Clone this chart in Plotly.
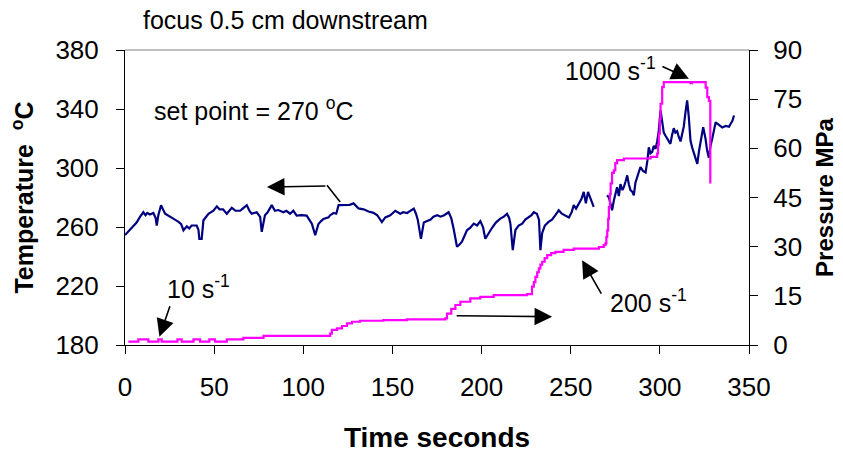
import plotly.graph_objects as go

# ---- Temperature (°C) vs time (s) ----
temp_time = [0, 2, 4.7, 6.5, 8.4, 10.3, 11.5, 12.5, 14, 15.9, 17.2, 17.8, 18.7, 20.2, 22.5, 24, 26, 28, 30, 31.5,
             32.8, 34.7, 36, 37.4, 40.2, 41.2, 41.7, 43, 44, 46.8, 49.6, 51.5, 53, 55, 57.1, 59.9, 62, 64.6, 66, 68.3,
             70, 71.1, 73.9, 75.8, 76.7, 78.5, 80, 82.3, 84.1, 86, 88.8, 90.5, 92.6, 94.4, 96.3, 99, 101.9, 103.5,
             104.8, 106.7, 108.5, 110, 111.3, 114.2, 115.1, 117, 118.5, 119.8, 122, 124.5, 126, 128.2, 131, 133.8,
             136.6, 139.4, 141.5, 144.1, 146, 148.8, 151.6, 154.4, 156, 158.2, 160, 162, 163.2, 164.2, 166, 167.6,
             169.5, 171.4, 173, 175.1, 177, 179, 181.5, 183, 184.3, 186.2, 187.5, 189, 191.8, 193.7, 195.6, 197.5,
             199.3, 200.8, 202.1, 204, 205.9, 208, 210.5, 212.5, 214.3, 215.5, 216.2, 217.5, 219, 220.8, 222.8, 224.5,
             226.5, 228, 229.3, 231, 232.2, 233, 234, 235.5, 237.6, 239.5, 241.4, 243.3, 245, 246.9, 249, 250.5,
             251.7, 253, 254.5, 256, 257.3, 258.5, 259.7, 261, 262.9,
             266.5,
             270.4, 271.4, 272.3, 273.2, 274.2, 275.1, 276, 277, 277.9, 279, 279.8, 280.8, 281.7, 282.6, 283.5, 284.5,
             285.4, 286.3, 287.3, 288.2, 289.1, 290.5, 292, 293, 293.8, 294.7, 295.7, 296.6, 297.6, 298.5, 299.4,
             300.4, 301.3, 302.2, 303.1, 304.1, 305, 305.9, 306.8, 307.8, 308.7, 309.7, 310.6, 311.6, 312.5, 313.4,
             314.4, 315.3, 316.2, 317.2, 318.1, 319.1, 320, 321, 321.9, 322.8, 323.6, 324.3, 325.6, 326.5, 327.5,
             328.4, 329.4, 330.3, 331.3, 332.2, 333.1, 334, 335, 336.9, 338.8, 339.7, 340.7, 341.6]
temp_vals = [254.5, 257, 261, 263, 266.8, 270, 268, 269.5, 268.5, 269.5, 266, 261, 268, 274.8, 269, 268, 266.8, 265,
             263.5, 262, 257.8, 260.5, 259, 261, 261, 258, 252, 252, 264.6, 269, 271, 274, 272, 272, 269, 273, 271,
             271, 272.5, 274.8, 270.5, 269, 270, 266.8, 256.7, 268, 270, 274.8, 271, 271.5, 270, 271, 269, 271,
             267.7, 268, 267.7, 265, 262.3, 254.5, 262, 264, 265.5, 266.5, 268, 269.5, 269, 274.8, 274.8, 274.5,
             275, 276, 272.6, 272, 270.5, 269.6, 268, 263.3, 266.5, 268, 271, 269, 270, 269.5, 271, 272.5, 269, 265,
             252, 263, 264, 265, 267, 268, 267, 268, 270, 266, 259, 246.6, 248, 250, 257.8, 259.5, 262.3, 261, 264,
             260, 252, 256, 259.5, 263, 265.7, 267, 269, 266, 262, 244.3, 258, 261, 262.3, 265, 266.5, 268, 270, 269,
             265, 244.3, 256, 261, 263.5, 265, 268, 271.3, 269, 268, 266.5, 270, 274.8, 272.5, 275.5, 279, 283.8,
             276, 283.8, 279, 273.6,
             None,
             281.5, 280, 275.9, 271.4, 278, 282.6, 287, 281, 289, 285, 287, 291, 295, 289, 285, 284, 281.5, 290, 294,
             297, 300.7, 298, 297, 305, 314, 310, 311, 315, 313, 318, 325.5, 339, 330, 324, 322, 320, 318, 316.4,
             322, 327, 324, 325, 321, 318, 323, 328, 338, 345.8, 335, 318.5, 314, 310, 307, 302.8, 311, 318, 324,
             327.7, 320, 312, 307, 315, 320, 326, 331, 330, 329, 328, 327.5, 328.5, 328, 330, 332, 335.6]

# ---- Pressure (MPa) vs time (s), stepped ----
pres_time = [1.9, 7.5, 13.1, 18.7, 20.6, 29.4, 31.8, 38.4, 42.1, 47.3, 50.5, 57.1, 66.4, 77.7, 115.1, 116, 118.9,
             121.7, 124.5, 127.3, 131.8, 145, 158.1, 179.7, 180.6, 183, 185.3, 188.1, 193.7, 199.3, 206.8, 225.5,
             228.3, 229.3, 230.2, 231.2, 232.1, 233, 234, 235.4, 236.8, 239, 241.4, 246, 251.7, 265.8, 268.5, 269.5,
             270, 270.5, 271, 271.4, 272, 272.4, 273.2, 274.2, 275, 276, 279.8, 294.8, 298.5, 299, 299.4, 300, 300.4,
             301.3, 302.2, 317.2, 318, 324.7, 325.7, 326.6, 327.5, 328.3]
pres_vals = [1.0, 1.7, 1.0, 1.7, 1.0, 1.7, 1.0, 1.7, 1.0, 1.7, 1.0, 1.7, 2.2, 2.8, 3.5, 4.6, 5.1, 5.8, 6.6, 7.1, 7.4,
             7.6, 7.8, 8.1, 9.6, 11, 12.2, 13.2, 14.2, 14.7, 15.2, 15.5, 17.8, 19.2, 20.8, 22.2, 23.4, 24.5, 25.4,
             26.5, 27.4, 28, 28.4, 29, 29.4, 29.9, 30.5, 31, 33, 35, 38.5, 42.1, 46, 49.3, 52.5, 53.3, 55.5, 56.4,
             56.9, 57.4, 58.4, 61, 64.5, 69, 73.6, 78.7, 80.2, 79.9, 80.2, 80.2, 78.5, 75.6, 74.5, 49.3]

x_ticks = [0, 50, 100, 150, 200, 250, 300, 350]
t_ticks = [180, 220, 260, 300, 340, 380]
p_ticks = [0, 15, 30, 45, 60, 75, 90]

FONT = "Liberation Sans, Arial, sans-serif"

fig = go.Figure()
fig.add_trace(go.Scatter(x=temp_time, y=temp_vals, mode="lines", line=dict(color="#000080", width=2.2),
                         connectgaps=False, yaxis="y", showlegend=False))
fig.add_trace(go.Scatter(x=pres_time, y=pres_vals, mode="lines", line=dict(color="#FF00FF", width=2.2, shape="hv"),
                         yaxis="y2", showlegend=False))

axis_common = dict(showline=True, linecolor="black", linewidth=1, ticks="outside", ticklen=8, tickcolor="black",
                   showgrid=False, zeroline=False, automargin=False,
                   tickfont=dict(family=FONT, size=26, color="black"))

fig.update_layout(
    width=843, height=456,
    margin=dict(l=125, r=94, t=50, b=111),
    paper_bgcolor="white", plot_bgcolor="white",
    font=dict(family=FONT, color="black"),
    xaxis=dict(range=[0, 350], tickvals=x_ticks, ticklabelstandoff=11,
               title=dict(text="<b>Time seconds</b>", font=dict(family=FONT, size=28), standoff=26),
               **axis_common),
    yaxis=dict(range=[180, 380], tickvals=t_ticks, ticklabelstandoff=12,
               title=dict(text="<b>Temperature  <sup>o</sup>C</b>", font=dict(family=FONT, size=25), standoff=14),
               **axis_common),
    yaxis2=dict(range=[0, 90], tickvals=p_ticks, overlaying="y", side="right", ticklabelstandoff=10,
                title=dict(text="<b>Pressure MPa</b>", font=dict(family=FONT, size=24), standoff=15),
                **axis_common),
)

# top frame line (gray)
fig.add_shape(type="line", xref="paper", yref="paper", x0=0, x1=1, y0=1, y1=1, line=dict(color="#808080", width=1))

ann_font = dict(family=FONT, size=25, color="black")

# title text
fig.add_annotation(text="focus 0.5 cm downstream", xref="paper", yref="paper", x=0.258, y=1.10,
                   xanchor="center", yanchor="middle", showarrow=False, font=ann_font)
# set point
fig.add_annotation(text="set point = 270 <sup>o</sup>C", xref="x", yref="y", x=72, y=340,
                   xanchor="center", yanchor="middle", showarrow=False, font=ann_font)

arrow_style = dict(showarrow=True, arrowhead=2, arrowsize=2.2, arrowwidth=1.6, arrowcolor="black")

# arrow: temperature -> left axis
fig.add_shape(type="line", xref="x", yref="y", x0=113.3, y0=288.3, x1=120.7, y1=277,
              line=dict(color="black", width=1.6))
fig.add_annotation(text="", xref="x", yref="y", x=79.6, y=287.1, ax=60, ay=-1, **arrow_style)
# arrow: pressure -> right axis
fig.add_annotation(text="", xref="x", yref="y", x=239.6, y=199.2, ax=-97, ay=-1, **arrow_style)

# 10 s-1
fig.add_annotation(text="", xref="x", yref="y", x=19.3, y=185.6, ax=11, ay=-32, **arrow_style)
fig.add_annotation(text="10 s<sup>-1</sup>", xref="x", yref="y", x=41.5, y=219,
                   xanchor="center", yanchor="middle", showarrow=False, font=ann_font)
# 200 s-1
fig.add_annotation(text="", xref="x", yref="y", x=256.4, y=237.5, ax=20, ay=35, **arrow_style)
fig.add_annotation(text="200 s<sup>-1</sup>", xref="x", yref="y", x=293.5, y=209.5,
                   xanchor="center", yanchor="middle", showarrow=False, font=ann_font)
# 1000 s-1
fig.add_annotation(text="", xref="x", yref="y", x=316.3, y=360.5, ax=-28, ay=-13, **arrow_style)
fig.add_annotation(text="1000 s<sup>-1</sup>", xref="x", yref="y", x=272.5, y=367,
                   xanchor="center", yanchor="middle", showarrow=False, font=ann_font)

fig.write_html("out.html")
